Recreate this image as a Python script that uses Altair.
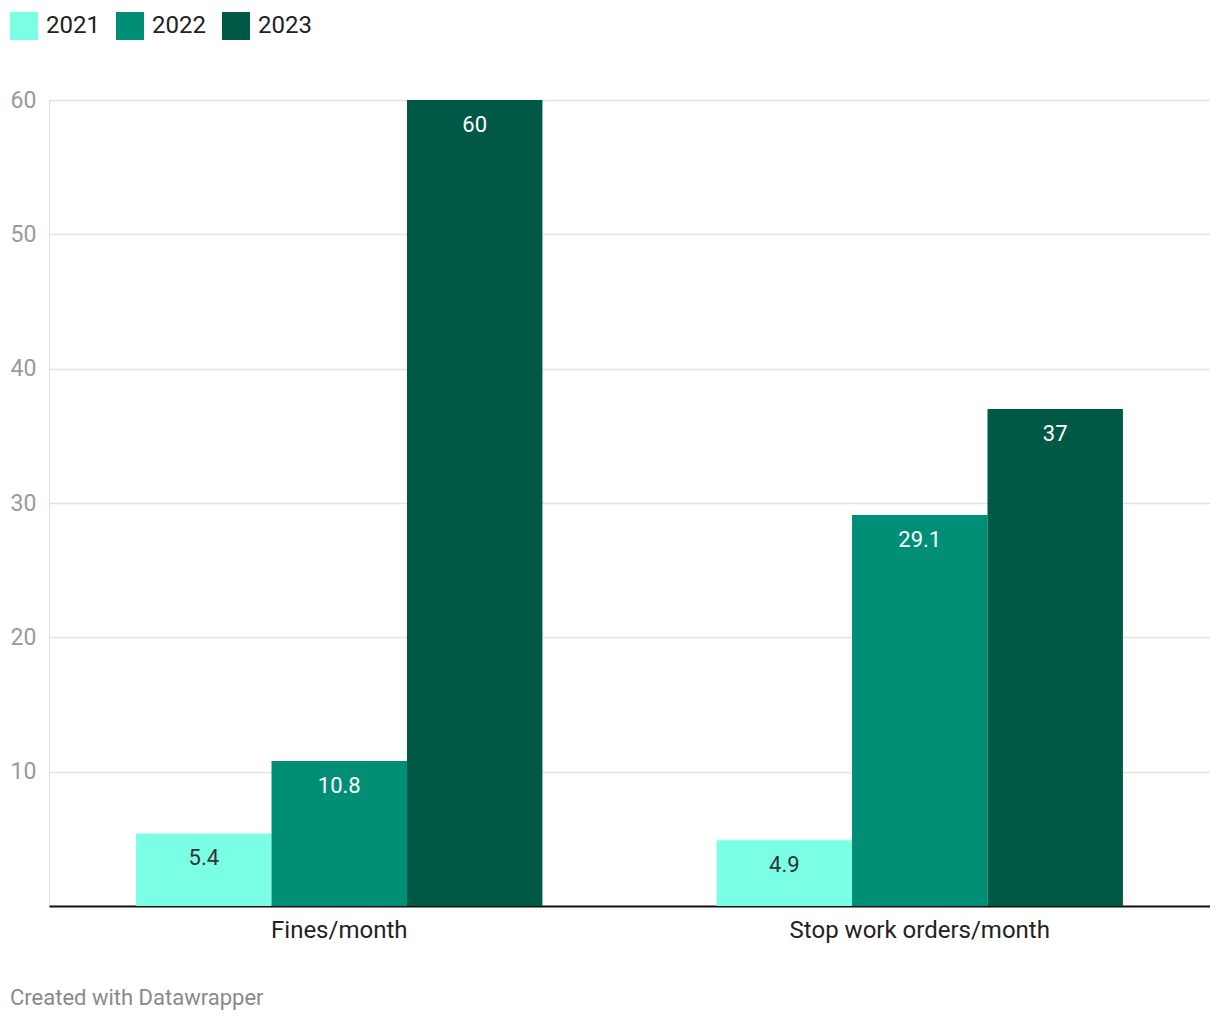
import altair as alt
import pandas as pd

categories = ["Fines/month", "Stop work orders/month"]
years = ["2021", "2022", "2023"]
values_2021 = [5.4, 4.9]
values_2022 = [10.8, 29.1]
values_2023 = [60, 37]
colors = ["#7affe4", "#008f76", "#005944"]
label_colors = ["#333333", "#ffffff", "#ffffff"]

rows = []
for yr, vals, lc in zip(years, [values_2021, values_2022, values_2023], label_colors):
    for cat, v in zip(categories, vals):
        rows.append({"category": cat, "year": yr, "value": v, "label": f"{v:g}", "lc": lc})
df = pd.DataFrame(rows)

FONT = "Roboto"

base = alt.Chart(df).encode(
    x=alt.X("category:N", sort=categories,
            scale=alt.Scale(paddingInner=0.3, paddingOuter=0.15),
            axis=alt.Axis(title=None, labelAngle=0, labelFontSize=24, labelColor="#222222",
                          labelFont=FONT, ticks=False, tickSize=0, labelPadding=12,
                          labelLimit=1000,
                          domainColor="#111111", domainWidth=2, grid=False)),
    xOffset=alt.XOffset("year:N", sort=years, scale=alt.Scale(paddingInner=0, paddingOuter=0)),
)

bars = base.mark_bar().encode(
    y=alt.Y("value:Q", scale=alt.Scale(domain=[0, 60], nice=False),
            axis=alt.Axis(title=None, values=[10, 20, 30, 40, 50, 60], labelAlign="left",
                          labelPadding=39, ticks=False, tickSize=0, domain=False,
                          labelFontSize=23, labelColor="#9a9a9a", labelFont=FONT,
                          gridColor="#e3e3e3", gridWidth=1.5)),
    color=alt.Color("year:N", sort=years, scale=alt.Scale(domain=years, range=colors),
                    legend=alt.Legend(title=None, orient="none", direction="horizontal",
                                      legendX=-39, legendY=-88, symbolType="square",
                                      symbolSize=784, symbolStrokeWidth=0, labelFontSize=24,
                                      labelFont=FONT, labelColor="#222222", labelOffset=8,
                                      columnPadding=16, padding=0)),
)

labels = base.mark_text(fontSize=22, font=FONT, baseline="middle", dy=25).encode(
    y=alt.Y("value:Q"),
    text="label:N",
    color=alt.Color("lc:N", scale=None, legend=None),
)

chart = alt.layer(bars, labels).resolve_scale(color="independent").properties(
    width=1161, height=806,
    autosize=alt.AutoSizeParams(type="none"),
    padding={"left": 41, "top": 92, "right": 0, "bottom": 104},
    title=alt.TitleParams("Created with Datawrapper", orient="bottom", anchor="start",
                          dx=0, offset=46, fontSize=22, font=FONT, color="#8a8a8a",
                          fontWeight="normal"),
).configure_view(strokeWidth=0).configure(background="white")

chart.save("out.html", embed_options={"renderer": "svg", "actions": False})
